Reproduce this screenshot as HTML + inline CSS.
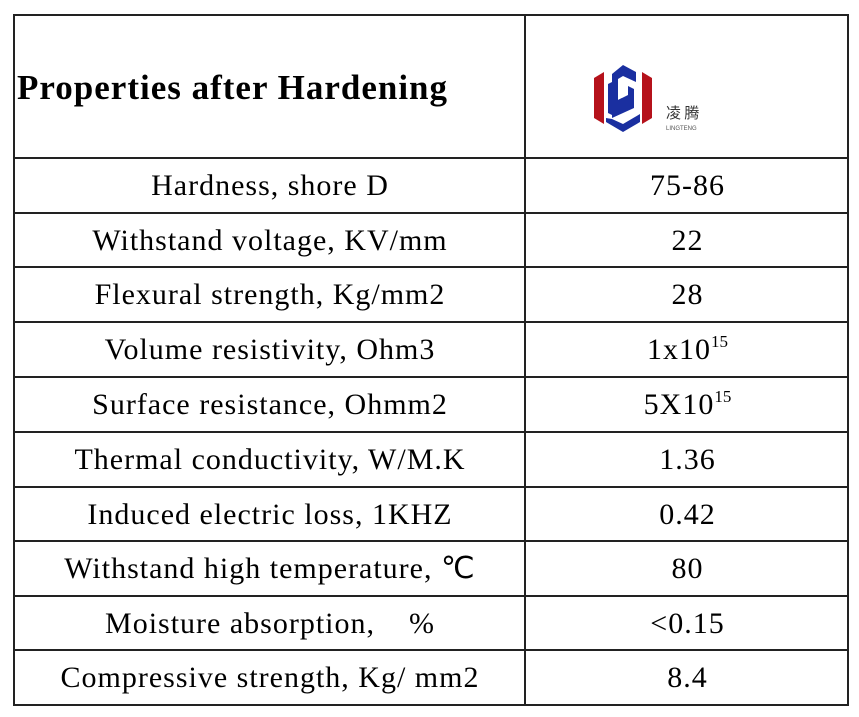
<!DOCTYPE html>
<html><head><style>
body{margin:0;background:#fff;width:859px;height:717px;position:relative;overflow:hidden;font-family:"Liberation Serif",serif;color:#000}
.h{position:absolute;left:13px;width:836px;height:2px;background:#222}
.v{position:absolute;top:15px;height:691px;width:2px;background:#222}
.t{position:absolute;font-size:30px;letter-spacing:1px;text-align:center;line-height:56px;white-space:nowrap}
.l{left:15px;width:510px}.r{left:527px;width:321px}
sup{font-size:17px;vertical-align:12px;line-height:0;letter-spacing:0}
</style></head><body>
<div class="h" style="top:14px"></div>
<div class="h" style="top:157px"></div>
<div class="h" style="top:212px"></div>
<div class="h" style="top:266px"></div>
<div class="h" style="top:321px"></div>
<div class="h" style="top:376px"></div>
<div class="h" style="top:431px"></div>
<div class="h" style="top:486px"></div>
<div class="h" style="top:540px"></div>
<div class="h" style="top:595px"></div>
<div class="h" style="top:649px"></div>
<div class="h" style="top:704px"></div>
<div class="v" style="left:13px"></div>
<div class="v" style="left:524px"></div>
<div class="v" style="left:847px"></div>
<div style="position:absolute;left:17px;top:68px;font-weight:bold;font-size:35px;letter-spacing:1px">Properties after Hardening</div>
<svg style="position:absolute;left:590px;top:62px" width="120" height="75" viewBox="0 0 120 75">
<polygon points="4,16 14,10 14,62 4,56" fill="#b5121b"/>
<polygon points="62,16 52,10 52,62 62,56" fill="#b5121b"/>
<polygon points="33,3 46,10 46,20 33,14 28,17 28,38 38,33 38,24 44,27 44,46 22,56 22,12" fill="#1a2fa0"/>
<polygon points="18,22 24,19 24,40 32,36 32,48 22,53 18,51" fill="#1a2fa0"/>
<polygon points="16,60 33,70 50,60 50,52 33,62 22,57 16,56" fill="#1a2fa0"/>
<text x="76" y="56" font-family="Noto Sans CJK SC,sans-serif" font-size="15" fill="#333">凌 腾</text>
<text x="76" y="68" font-family="Liberation Sans,sans-serif" font-size="6" fill="#555">LINGTENG</text>
</svg>
<div class="t l" style="top:158px">Hardness, shore D</div><div class="t r" style="top:158px">75-86</div>
<div class="t l" style="top:213px">Withstand voltage, KV/mm</div><div class="t r" style="top:213px">22</div>
<div class="t l" style="top:267px">Flexural strength, Kg/mm2</div><div class="t r" style="top:267px">28</div>
<div class="t l" style="top:322px">Volume resistivity, Ohm3</div><div class="t r" style="top:322px">1x10<sup>15</sup></div>
<div class="t l" style="top:377px">Surface resistance, Ohmm2</div><div class="t r" style="top:377px">5X10<sup>15</sup></div>
<div class="t l" style="top:432px">Thermal conductivity, W/M.K</div><div class="t r" style="top:432px">1.36</div>
<div class="t l" style="top:487px">Induced electric loss, 1KHZ</div><div class="t r" style="top:487px">0.42</div>
<div class="t l" style="top:541px">Withstand high temperature, ℃</div><div class="t r" style="top:541px">80</div>
<div class="t l" style="top:596px">Moisture absorption, &nbsp;&nbsp;&nbsp;%</div><div class="t r" style="top:596px">&lt;0.15</div>
<div class="t l" style="top:650px">Compressive strength, Kg/ mm2</div><div class="t r" style="top:650px">8.4</div>
</body></html>
